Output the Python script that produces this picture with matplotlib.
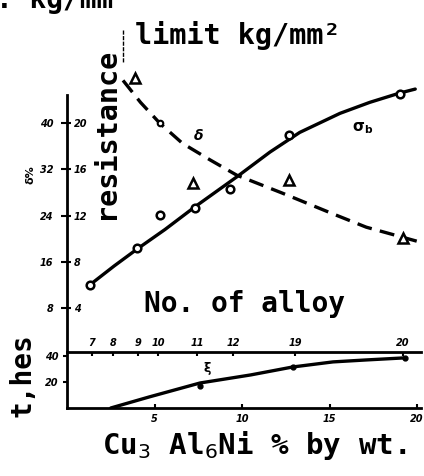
import matplotlib
matplotlib.use("Agg")
import matplotlib.pyplot as plt
from matplotlib.lines import Line2D

# ---- data ----
# upper panel, x = Cu3Al6Ni % by wt., y in delta % (right scale = kg/mm2 = y/2)
strength_pts_x = [1.3, 4.0, 5.3, 7.3, 9.3, 12.7, 19.0]
strength_pts_y = [12.0, 18.4, 24.1, 25.3, 28.6, 37.9, 45.0]
strength_curve_x = [1.3, 2.7, 4.0, 5.6, 7.3, 9.7, 11.6, 13.3, 15.6, 17.3, 19.0, 19.9]
strength_curve_y = [12.0, 15.3, 18.2, 21.6, 25.5, 30.7, 35.0, 38.4, 41.7, 43.6, 45.2, 45.9]

elong_tri_x = [3.9, 7.2, 12.7, 19.2]
elong_tri_y = [47.8, 29.6, 30.1, 20.1]
elong_circ_x = [5.3]
elong_circ_y = [40.0]
elong_curve_x = [3.2, 4.2, 5.3, 6.6, 8.2, 9.7, 12.3, 15.2, 17.1, 20.2]
elong_curve_y = [47.4, 43.6, 40.0, 36.5, 33.6, 31.0, 27.9, 24.3, 22.0, 19.4]

left_ticks = [8, 16, 24, 32, 40]

# alloy numbers on the separating axis
alloy_pos = [1.43, 2.63, 4.06, 5.2, 7.43, 9.49, 13.03, 19.2]
alloy_labels = ["7", "8", "9", "10", "11", "12", "19", "20"]

# lower panel
lower_curve_x = [2.5, 4.7, 7.6, 10.5, 12.9, 15.2, 17.1, 19.3]
lower_curve_y = [0.0, 8.5, 19.2, 25.4, 31.5, 35.4, 36.9, 38.5]
lower_dot_x = [7.6, 12.9, 19.3]
lower_dot_y = [17.0, 31.5, 38.5]
lower_yticks = [20, 40]
bottom_ticks = [5, 10, 15, 20]

W, H = 424, 476
fig = plt.figure(figsize=(W / 100, H / 100), dpi=100)
MONO = "DejaVu Sans Mono"

def fx(px):
    return px / W

def fy(py):
    return 1 - py / H

x0, x1 = 67, 420.5
ax1 = fig.add_axes([fx(x0), fy(352), fx(x1 - x0), fy(70) - fy(352)])
ax2 = fig.add_axes([fx(x0), fy(408), fx(x1 - x0), fy(352) - fy(408)])

# upper axes
ax1.set_xlim(0, 20.2)
ax1.set_ylim(0.4, 49.2)
for s in ["top", "right", "bottom"]:
    ax1.spines[s].set_visible(False)
ax1.spines["left"].set_linewidth(2.0)
ax1.spines["left"].set_bounds(0.4, 44.8)
ax1.set_xticks([])
ax1.set_yticks(left_ticks)
ax1.set_yticklabels([str(t) for t in left_ticks], fontsize=7, fontweight="bold",
                    fontstyle="italic")
ax1.tick_params(axis="y", length=4, width=1.5, pad=6)

sec = ax1.secondary_yaxis(0.0, functions=(lambda y: y / 2, lambda y: y * 2))
sec.set_alignment("right")
sec.set_yticks([t / 2 for t in left_ticks])
sec.set_yticklabels([str(t // 2) for t in left_ticks], fontsize=7, fontweight="bold",
                    fontstyle="italic")
sec.tick_params(axis="y", length=3, width=1.5, pad=2)
for s in sec.spines.values():
    s.set_visible(False)

ax1.plot(strength_curve_x, strength_curve_y, color="black", lw=2.4, solid_capstyle="round")
ax1.plot(strength_pts_x, strength_pts_y, "o", ms=5.5, mfc="white", mec="black", mew=1.8)
ax1.plot(elong_curve_x, elong_curve_y, color="black", lw=2.4, ls=(0, (4.5, 2.5)))
ax1.plot(elong_tri_x, elong_tri_y, "^", ms=6.5, mfc="white", mec="black", mew=1.8)
ax1.plot(elong_circ_x, elong_circ_y, "o", ms=4, mfc="white", mec="black", mew=1.5)

ax1.text(16.9, 39.2, r"$\mathbf{\sigma_b}$", fontsize=11, ha="center", va="center")
ax1.text(7.5, 37.8, "δ", fontsize=10, fontweight="bold", fontstyle="italic",
         ha="center", va="center")

# lower axes
ax2.set_xlim(0, 20.2)
ax2.set_ylim(0, 43)
ax2.spines["right"].set_visible(False)
for s in ["left", "top", "bottom"]:
    ax2.spines[s].set_linewidth(2.0)
ax2.set_yticks(lower_yticks)
ax2.set_yticklabels([str(t) for t in lower_yticks], fontsize=7, fontweight="bold",
                    fontstyle="italic")
ax2.tick_params(axis="y", length=3, width=1.5, pad=3)
ax2.set_xticks(bottom_ticks)
ax2.set_xticklabels([str(t) for t in bottom_ticks], fontsize=7, fontweight="bold",
                    fontstyle="italic")
ax2.tick_params(axis="x", direction="in", length=3, width=1.5, pad=4)

top = ax2.secondary_xaxis("top")
top.set_xticks(alloy_pos)
top.set_xticklabels(alloy_labels, fontsize=7, fontweight="bold", fontstyle="italic")
top.tick_params(axis="x", direction="in", length=3, width=1.5, pad=3)
top.spines["top"].set_visible(False)

ax2.plot(lower_curve_x, lower_curve_y, color="black", lw=2.4, solid_capstyle="round")
ax2.plot(lower_dot_x, lower_dot_y, "o", ms=3.5, color="black")
ax2.text(8.0, 30, "ξ", fontsize=9, fontweight="bold", ha="center", va="center")

# texts
fig.text(fx(-4), fy(8), ": kg/mm²", fontsize=20, family=MONO, fontweight="bold",
         ha="left", va="baseline")
fig.text(fx(135), fy(44), "limit kg/mm²", fontsize=20.5, family=MONO, fontweight="bold",
         ha="left", va="baseline")
fig.text(fx(106), fy(133), "resistance", fontsize=20.5, family=MONO, fontweight="bold",
         rotation=90, ha="center", va="center")
fig.text(fx(245), fy(304), "No. of alloy", fontsize=20, family=MONO, fontweight="bold",
         ha="center", va="center")
fig.text(fx(22), fy(375), "t,hes", fontsize=20, family=MONO, fontweight="bold",
         rotation=90, ha="center", va="center")
fig.text(fx(30), fy(175), "δ%", fontsize=8, fontweight="bold", rotation=90,
         ha="center", va="center")
fig.text(fx(254), fy(445), r"Cu$_3$ Al$_6$Ni % by wt.", fontsize=21, family=MONO,
         fontweight="bold", ha="center", va="center")
fig.add_artist(Line2D([fx(123), fx(123)], [fy(30), fy(62)], color="black", lw=1.0,
                      ls=(0, (3, 1))))

fig.savefig("out.png", dpi=100)
